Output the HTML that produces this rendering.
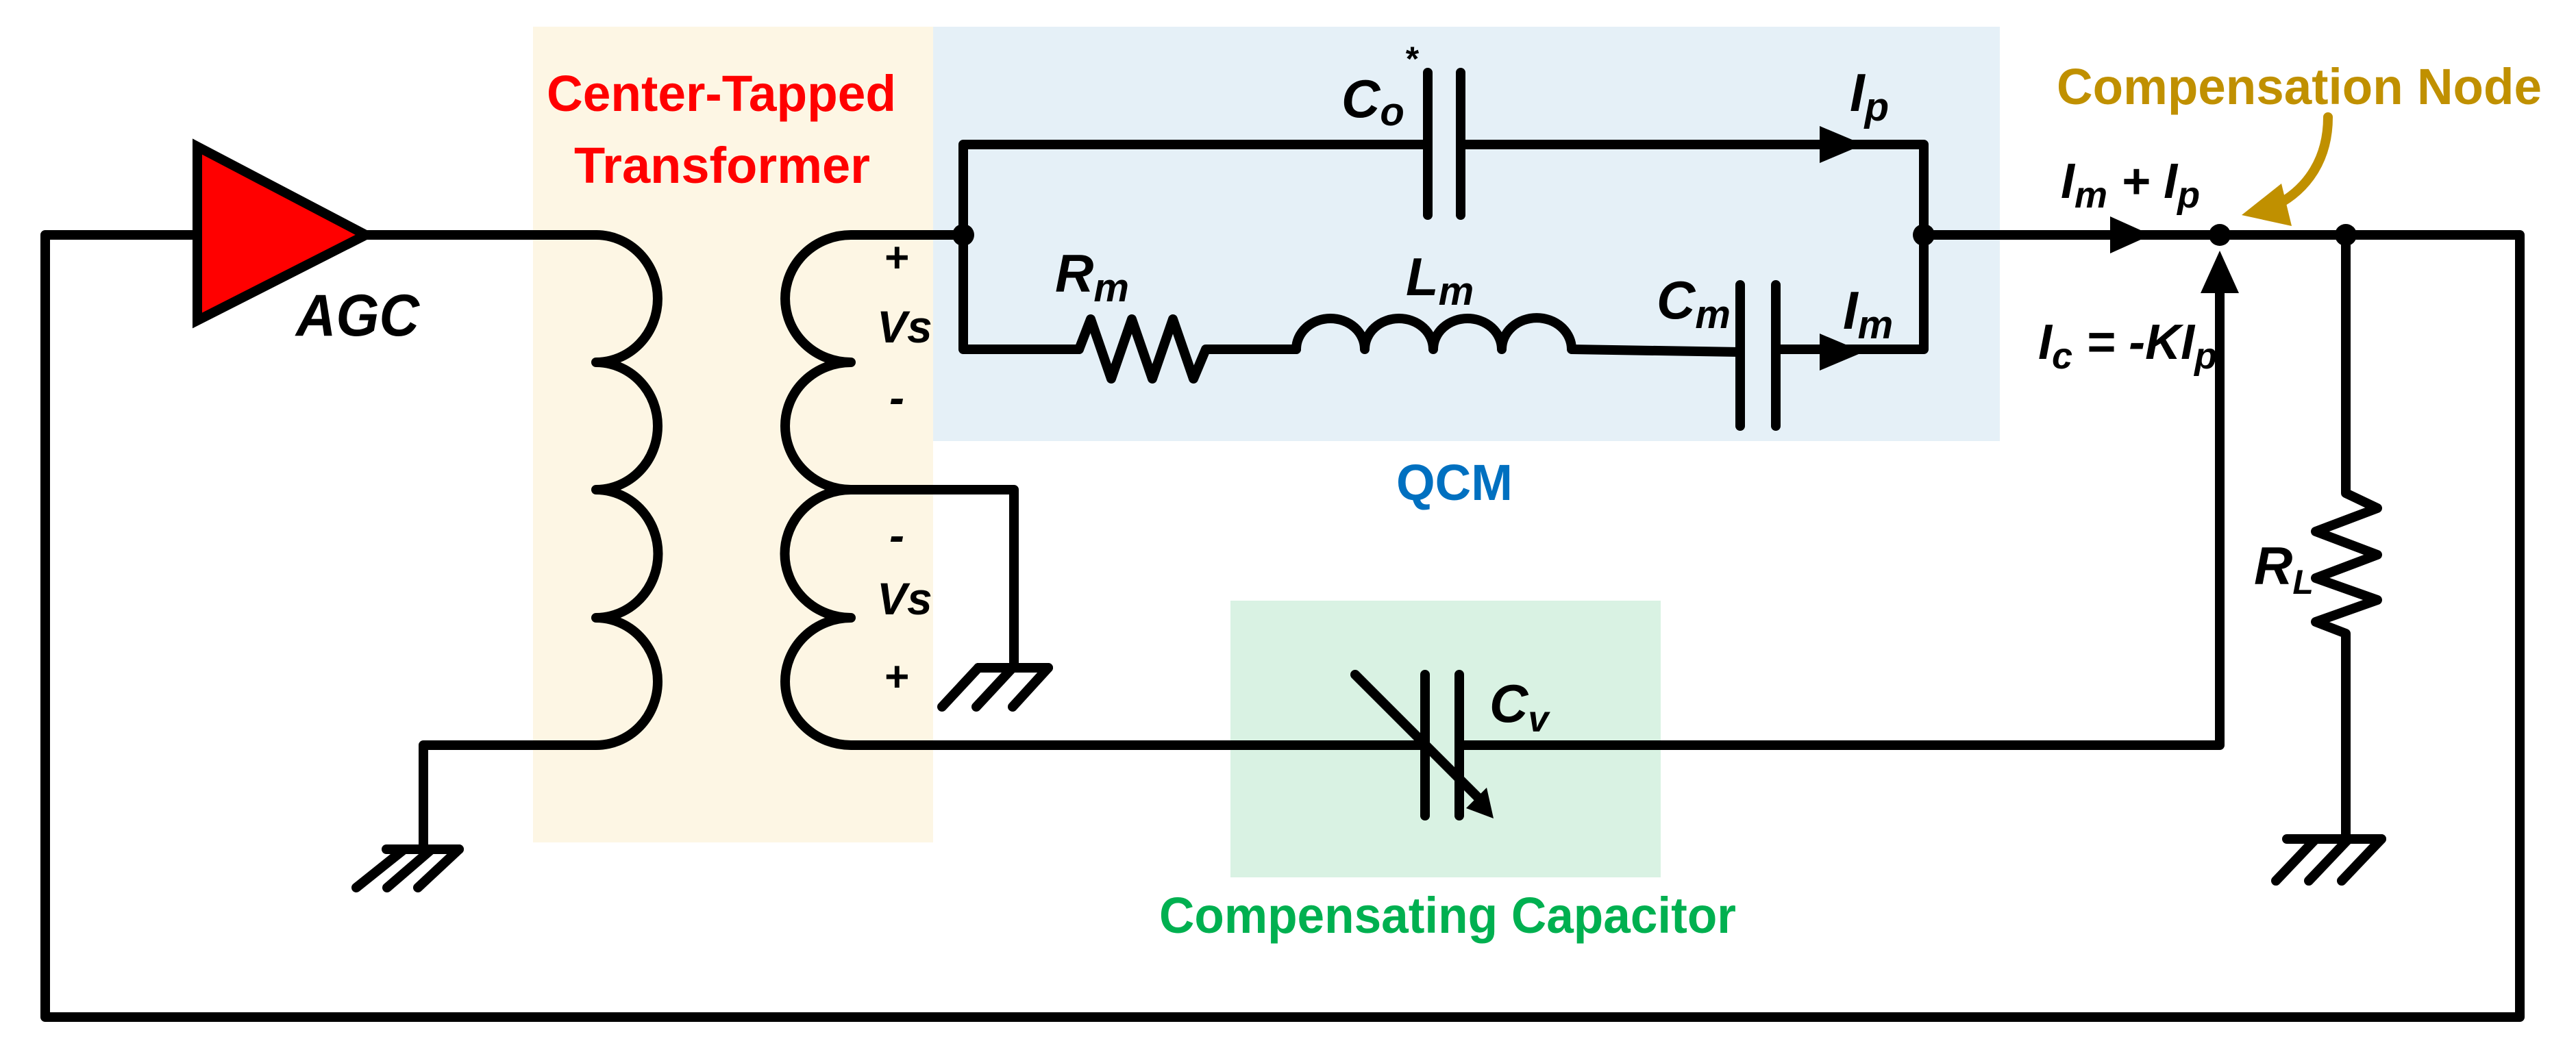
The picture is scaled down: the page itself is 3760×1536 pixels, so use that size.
<!DOCTYPE html>
<html><head><meta charset="utf-8"><style>
html,body{margin:0;padding:0;background:#fff;}
svg{display:block;}
text{font-family:"Liberation Sans",sans-serif;font-weight:bold;}
</style></head><body>
<svg width="3760" height="1536" viewBox="0 0 3760 1536" xmlns="http://www.w3.org/2000/svg">
<rect x="0" y="0" width="3760" height="1536" fill="#fff"/>
<rect x="778" y="39" width="584" height="1191" fill="#fdf6e4"/>
<rect x="1362" y="39" width="1557" height="605" fill="#e5f0f7"/>
<rect x="1796" y="877" width="628" height="404" fill="#d9f2e3"/>

<g fill="none" stroke="#000" stroke-width="14" stroke-linejoin="round" stroke-linecap="round">
<!-- outer loop -->
<polyline points="288,343 66,343 66,1485 3678,1485 3678,343 3240,343"/>
<!-- AGC out to primary -->
<line x1="534" y1="343" x2="870" y2="343"/>
<!-- primary coil -->
<path d="M870,343 A90 93 0 0 1 870,529 A90 93 0 0 1 870,715 A90 93 0 0 1 870,902 A90 93 0 0 1 870,1088 L618,1088 L618,1240"/>
<!-- secondary coil -->
<path d="M1406,343 L1242,343 A96 93 0 0 0 1242,529 A96 93 0 0 0 1242,715 A96 93 0 0 0 1242,902 A96 93 0 0 0 1242,1088 L2080,1088"/>
<polyline points="1242,715 1480,715 1480,975"/>
<!-- QCM top branch -->
<polyline points="2084,211 1406,211 1406,510 1575,510"/>
<polyline points="2132,211 2808,211 2808,510 2592,510"/>
<!-- Co plates -->
<line x1="2084" y1="106" x2="2084" y2="314"/><line x1="2132" y1="106" x2="2132" y2="314"/>
<!-- Rm -->
<polyline points="1575,510 1592,466 1622,553 1652,466 1682,553 1712,466 1742,553 1760,510 1892,510"/>
<!-- Lm -->
<path d="M1892,510 A50 45 0 0 1 1992,510 A50 45 0 0 1 2092,510 A50 45 0 0 1 2192,510 A50 45 0 0 1 2294,510 L2540,514"/>
<!-- Cm plates -->
<line x1="2540" y1="416" x2="2540" y2="622"/><line x1="2592" y1="416" x2="2592" y2="622"/>
<!-- to compensation node -->
<polyline points="2808,343 3240,343"/>
<!-- Ic vertical -->
<polyline points="2130,1088 3240,1088 3240,400"/>
<!-- Cv plates -->
<line x1="2080" y1="985" x2="2080" y2="1191"/><line x1="2130" y1="985" x2="2130" y2="1191"/>
<line x1="1978" y1="985" x2="2165" y2="1172"/>
<!-- RL -->
<polyline points="3424,343 3424,720 3470,742 3380,776 3470,810 3380,844 3470,876 3380,908 3424,925 3424,1225"/>
<!-- grounds -->
<g>
<line x1="564" y1="1240" x2="670" y2="1240"/>
<line x1="590" y1="1240" x2="520" y2="1296"/><line x1="630" y1="1240" x2="565" y2="1296"/><line x1="670" y1="1240" x2="610" y2="1296"/>
<line x1="1428" y1="975" x2="1530" y2="975"/>
<line x1="1428" y1="975" x2="1375" y2="1032"/><line x1="1478" y1="975" x2="1425" y2="1032"/><line x1="1530" y1="975" x2="1478" y2="1032"/>
<line x1="3338" y1="1225" x2="3476" y2="1225"/>
<line x1="3380" y1="1225" x2="3322" y2="1286"/><line x1="3428" y1="1225" x2="3370" y2="1286"/><line x1="3476" y1="1225" x2="3418" y2="1286"/>
</g>
</g>
<!-- AGC -->
<polygon points="288,214 288,468 534,343" fill="#f00" stroke="#000" stroke-width="14" stroke-linejoin="miter"/>
<!-- arrowheads -->
<g fill="#000">
<polygon points="2656,184 2720,211 2656,238"/>
<polygon points="2656,487 2720,514 2656,541"/>
<polygon points="3080,316 3140,343 3080,370"/>
<polygon points="3212,428 3240,366 3268,428"/>
<polygon points="2180,1195 2140,1180 2170,1150"/>
<circle cx="1406" cy="343" r="16"/><circle cx="2808" cy="343" r="16"/>
<circle cx="3240" cy="343" r="16"/><circle cx="3424" cy="343" r="16"/>
</g>
<!-- gold arrow -->
<path d="M3398,171 C3398,230 3370,275 3322,300" fill="none" stroke="#c09000" stroke-width="14" stroke-linecap="round"/>
<polygon points="3272,314 3330,268 3345,330" fill="#c09000"/>

<!-- labels -->
<g font-style="italic" fill="#000">
<text x="432" y="490" font-size="86" textLength="180" lengthAdjust="spacingAndGlyphs">AGC</text>
<text x="1290" y="397" font-size="62">+</text>
<text x="1280" y="500" font-size="66">Vs</text>
<text x="1298" y="603" font-size="66">-</text>
<text x="1298" y="804" font-size="66">-</text>
<text x="1280" y="897" font-size="66">Vs</text>
<text x="1290" y="1009" font-size="62">+</text>
<text x="1958" y="171" font-size="78">C<tspan font-size="58" dy="12">o</tspan><tspan font-size="50" dy="-80">*</tspan></text>
<text x="2700" y="162" font-size="78">I<tspan font-size="58" dy="14">p</tspan></text>
<text x="1540" y="426" font-size="78">R<tspan font-size="58" dy="14">m</tspan></text>
<text x="2052" y="431" font-size="78">L<tspan font-size="58" dy="14">m</tspan></text>
<text x="2418" y="465" font-size="78">C<tspan font-size="58" dy="14">m</tspan></text>
<text x="2690" y="480" font-size="78">I<tspan font-size="58" dy="14">m</tspan></text>
<text x="3008" y="289" font-size="72">I<tspan font-size="54" dy="14">m</tspan><tspan dy="-14"> + I</tspan><tspan font-size="54" dy="14">p</tspan></text>
<text x="2975" y="524" font-size="72">I<tspan font-size="54" dy="14">c</tspan><tspan dy="-14"> = -KI</tspan><tspan font-size="54" dy="14">p</tspan></text>
<text x="3290" y="853" font-size="78">R<tspan font-size="50" dy="14">L</tspan></text>
<text x="2174" y="1054" font-size="78">C<tspan font-size="54" dy="14">v</tspan></text>
</g>
<text x="798" y="162" font-size="74" fill="#f00" textLength="510" lengthAdjust="spacingAndGlyphs">Center-Tapped</text>
<text x="838" y="267" font-size="74" fill="#f00" textLength="432" lengthAdjust="spacingAndGlyphs">Transformer</text>
<text x="2038" y="730" font-size="74" fill="#0070c0" textLength="170" lengthAdjust="spacingAndGlyphs">QCM</text>
<text x="1692" y="1362" font-size="74" fill="#00b050" textLength="842" lengthAdjust="spacingAndGlyphs">Compensating Capacitor</text>
<text x="3002" y="152" font-size="74" fill="#c09000" textLength="708" lengthAdjust="spacingAndGlyphs">Compensation Node</text>
</svg>
</body></html>
